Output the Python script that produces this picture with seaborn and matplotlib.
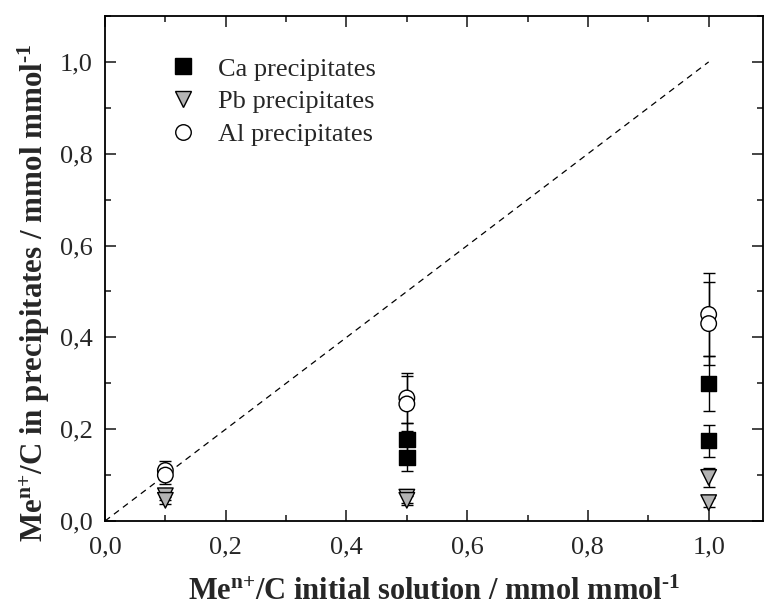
import matplotlib
matplotlib.use("Agg")
import matplotlib.pyplot as plt
import seaborn as sns
import pandas as pd
import numpy as np
from matplotlib.ticker import MultipleLocator, FuncFormatter

# Data
x_ca = [0.5, 0.5, 1.0, 1.0]
y_ca = [0.178, 0.138, 0.30, 0.175]
e_ca = [0.035, 0.028, 0.06, 0.035]

x_pb = [0.1, 0.1, 0.5, 0.5, 1.0, 1.0]
y_pb = [0.055, 0.045, 0.052, 0.045, 0.095, 0.04]
e_pb = [0.010, 0.008, 0.012, 0.010, 0.020, 0.010]

x_al = [0.1, 0.1, 0.5, 0.5, 1.0, 1.0]
y_al = [0.110, 0.100, 0.268, 0.255, 0.45, 0.43]
e_al = [0.020, 0.020, 0.055, 0.060, 0.09, 0.09]

labels = ["Ca precipitates", "Pb precipitates", "Al precipitates"]
ref_x = [0.0, 1.0]
ref_y = [0.0, 1.0]

sns.set_theme(style="ticks")
plt.rcParams["font.family"] = ["Liberation Serif", "DejaVu Serif"]
plt.rcParams["mathtext.fontset"] = "custom"
plt.rcParams["mathtext.rm"] = "Liberation Serif"
plt.rcParams["mathtext.bf"] = "Liberation Serif:bold"
plt.rcParams["mathtext.it"] = "Liberation Serif:italic"
plt.rcParams["mathtext.default"] = "bf"

df = pd.concat([
    pd.DataFrame({"x": x_ca, "y": y_ca, "err": e_ca, "series": labels[0]}),
    pd.DataFrame({"x": x_pb, "y": y_pb, "err": e_pb, "series": labels[1]}),
    pd.DataFrame({"x": x_al, "y": y_al, "err": e_al, "series": labels[2]}),
], ignore_index=True)

fig = plt.figure(figsize=(7.64, 6.10), dpi=100)
ax = fig.add_axes([105 / 764, 89 / 610, 658 / 764, 505 / 610])

ax.plot(ref_x, ref_y, linestyle=(0, (5, 4)), color="black", linewidth=0.9, zorder=1)

for s in labels:
    d = df[df["series"] == s]
    ax.errorbar(d["x"], d["y"], yerr=d["err"], fmt="none", ecolor="black",
                elinewidth=1.0, capsize=4.3, capthick=1.0, zorder=2)

palette = {labels[0]: "black", labels[1]: "#b3b3b3", labels[2]: "white"}
markers = {labels[0]: "s", labels[1]: "v", labels[2]: "o"}
sns.scatterplot(data=df, x="x", y="y", hue="series", style="series",
                palette=palette, markers=markers, s=125, edgecolor="black",
                linewidth=1.0, ax=ax, zorder=3, legend=True)

ax.set_xlim(0, 1.09)
ax.set_ylim(0, 1.1)
ax.xaxis.set_major_locator(MultipleLocator(0.2))
ax.xaxis.set_minor_locator(MultipleLocator(0.1))
ax.yaxis.set_major_locator(MultipleLocator(0.2))
ax.yaxis.set_minor_locator(MultipleLocator(0.1))
fmt = FuncFormatter(lambda v, p: f"{v:.1f}".replace(".", ","))
ax.xaxis.set_major_formatter(fmt)
ax.yaxis.set_major_formatter(fmt)
ax.tick_params(which="both", direction="in", top=True, right=True, width=1.2,
               labelsize=19)
ax.tick_params(axis="x", which="major", pad=11)
ax.tick_params(axis="y", which="major", pad=9)
ax.tick_params(which="major", length=8)
ax.tick_params(which="minor", length=4.5)
for sp in ax.spines.values():
    sp.set_linewidth(1.3)
    sp.set_color("black")

ax.set_xlabel("Me$^{n{+}}$/C initial solution / mmol mmol$^{\u20101}$",
              fontsize=22, fontweight="bold", labelpad=14)
ax.set_ylabel("Me$^{n{+}}$/C in precipitates / mmol mmol$^{\u20101}$",
              fontsize=22.3, fontweight="bold")
ax.yaxis.set_label_coords(-0.08, 0.452)

leg = ax.get_legend()
handles = leg.legend_handles
leg.remove()
ax.legend(handles=handles, labels=labels, loc="upper left",
          bbox_to_anchor=(0.051, 0.955), frameon=False, fontsize=19,
          handletextpad=0.3, labelspacing=0.35, borderpad=0.2, markerscale=1.0)

fig.savefig("out.png", dpi=100)
